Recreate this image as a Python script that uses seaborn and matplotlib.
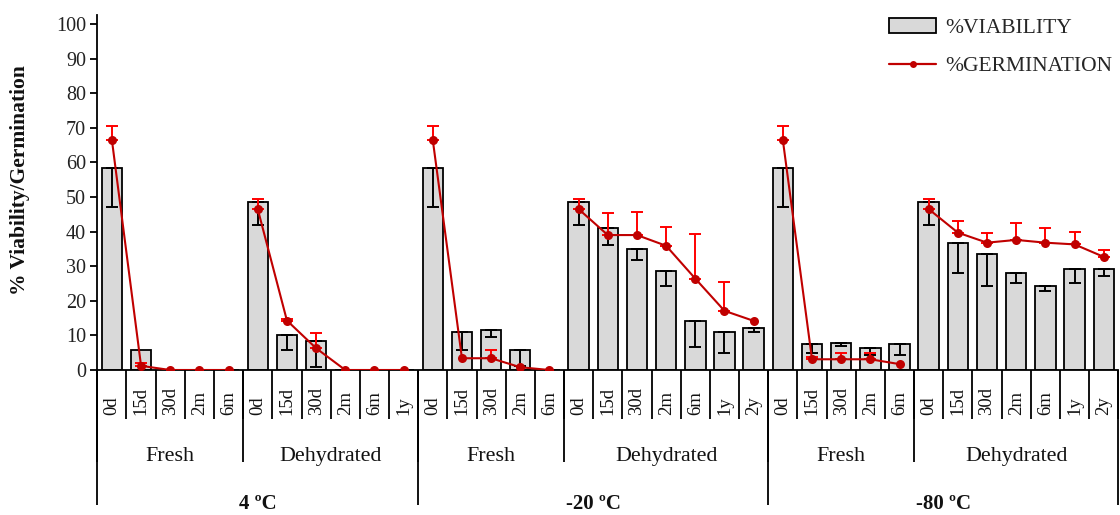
import numpy as np
import pandas as pd
import matplotlib
matplotlib.use("Agg")
import matplotlib.pyplot as plt
import matplotlib.transforms as mtransforms
from matplotlib.lines import Line2D
from matplotlib.patches import Patch
import seaborn as sns

# ---------------- data ----------------
group_temp = ["4 ºC", "4 ºC", "-20 ºC", "-20 ºC", "-80 ºC", "-80 ºC"]
group_state = ["Fresh", "Dehydrated", "Fresh", "Dehydrated", "Fresh", "Dehydrated"]
group_times = [
    ["0d", "15d", "30d", "2m", "6m"],
    ["0d", "15d", "30d", "2m", "6m", "1y"],
    ["0d", "15d", "30d", "2m", "6m"],
    ["0d", "15d", "30d", "2m", "6m", "1y", "2y"],
    ["0d", "15d", "30d", "2m", "6m"],
    ["0d", "15d", "30d", "2m", "6m", "1y", "2y"],
]
viability = [
    [58.5, 5.7, 0, 0, 0],
    [48.5, 10.1, 8.5, 0, 0, 0],
    [58.5, 11.1, 11.6, 5.8, 0],
    [48.5, 40.9, 35.1, 28.7, 14.3, 11.1, 12.0],
    [58.5, 7.4, 7.9, 6.3, 7.4],
    [48.5, 36.6, 33.4, 28.1, 24.4, 29.2, 29.2],
]
viability_err = [
    [11.3, 0, 0, 0, 0],
    [6.6, 4.3, 7.5, 0, 0, 0],
    [11.3, 5.3, 2.0, 4.6, 0],
    [6.6, 4.8, 3.3, 4.3, 7.6, 6.3, 0.9],
    [11.3, 2.6, 1.0, 2.0, 3.1],
    [6.6, 8.5, 9.0, 2.9, 1.6, 4.0, 2.0],
]
germination = [
    [66.5, 1.2, 0, 0, 0],
    [46.5, 14.3, 6.3, 0, 0, 0],
    [66.5, 3.4, 3.4, 0.8, 0],
    [46.5, 39.0, 39.0, 35.9, 26.4, 17.1, 14.2],
    [66.5, 3.1, 3.1, 3.1, 1.7],
    [46.5, 39.7, 36.8, 37.6, 36.8, 36.3, 32.7],
]
germination_err = [
    [4.1, 0.8, 0, 0, 0],
    [2.8, 0.4, 4.3, 0, 0, 0],
    [4.1, 0, 2.4, 0, 0],
    [2.8, 6.3, 6.8, 5.5, 12.9, 8.2, 0],
    [4.1, 0.7, 1.7, 1.7, 0],
    [2.8, 3.4, 2.7, 4.8, 4.1, 3.7, 2.0],
]

rows = []
pos = 0
for g in range(len(group_times)):
    for i, t in enumerate(group_times[g]):
        rows.append(dict(pos=pos, group=g, temp=group_temp[g], state=group_state[g], time=t,
                         viability=viability[g][i], v_err=viability_err[g][i],
                         germination=germination[g][i], g_err=germination_err[g][i]))
        pos += 1
df = pd.DataFrame(rows)
n = len(df)

# ---------------- style ----------------
sns.set_style("ticks")
plt.rcParams["font.family"] = ["Liberation Serif", "DejaVu Serif"]

W, H = 1120, 515
fig = plt.figure(figsize=(W / 100, H / 100), dpi=100)
ax_left, ax_right, ax_top, ax_bot = 97.3, 1118.3, 15, 370
ax = fig.add_axes([ax_left / W, 1 - ax_bot / H, (ax_right - ax_left) / W, (ax_bot - ax_top) / H])

BAR = "#d9d9d9"
RED = "#c00000"
RED_ERR = "#ff0000"

sns.barplot(data=df, x="pos", y="viability", native_scale=True, color=BAR, saturation=1,
            edgecolor="black", linewidth=1.3, width=0.7, errorbar=None, ax=ax, zorder=1)

ve = df[df.v_err > 0]
ax.errorbar(ve.pos, ve.viability, yerr=[ve.v_err, np.zeros(len(ve))], fmt="none",
            ecolor="black", elinewidth=1.4, capsize=4, capthick=1.4, zorder=2)

sns.lineplot(data=df, x="pos", y="germination", units="group", estimator=None, sort=False,
             color=RED, marker="o", markersize=6.5, markeredgewidth=0, linewidth=1.5,
             legend=False, ax=ax, zorder=4)

ge = df[df.g_err > 0]
ax.errorbar(ge.pos, ge.germination, yerr=[np.zeros(len(ge)), ge.g_err], fmt="none",
            ecolor=RED_ERR, elinewidth=1.4, capsize=4.5, capthick=1.4, zorder=3)

ax.set_xlim(-0.5, n - 0.5)
ax.set_ylim(0, 102.6)
ax.set_yticks(np.arange(0, 101, 10))
ax.set_xticks([])
ax.set_xlabel("")
ax.set_ylabel("")
for s in ["top", "right"]:
    ax.spines[s].set_visible(False)
ax.spines["left"].set_linewidth(1.3)
ax.spines["bottom"].set_linewidth(1.3)
ax.spines["left"].set_color("black")
ax.spines["bottom"].set_color("black")
ax.tick_params(axis="y", direction="out", length=5, width=1.3, color="black",
               labelsize=14.5, labelcolor="#222222", pad=3)

# ---------------- hierarchical x labels ----------------
trans = mtransforms.blended_transform_factory(ax.transData, ax.transAxes)
axh = ax_bot - ax_top


def yf(px):
    return (ax_bot - px) / axh


line_kw = dict(color="black", lw=1.3, clip_on=False, transform=trans, solid_capstyle="butt")

# category cells
for p, t in zip(df.pos, df.time):
    ax.plot([p - 0.5, p - 0.5], [0, yf(419)], **line_kw)
    ax.text(p, yf(415), t, rotation=90, rotation_mode="anchor", ha="left", va="center",
            fontsize=13.5, transform=trans, color="#111111")
ax.plot([n - 0.5, n - 0.5], [0, yf(419)], **line_kw)

# state groups
starts = df.groupby("group").pos.min().values
ends = df.groupby("group").pos.max().values
for g, (s, e) in enumerate(zip(starts, ends)):
    ax.plot([s - 0.5, s - 0.5], [0, yf(462)], **line_kw)
    ax.text((s + e) / 2, yf(461), group_state[g], ha="center", va="baseline",
            fontsize=15.8, transform=trans, color="#111111")

# temperature groups
temps_order = list(dict.fromkeys(group_temp))
for tname in temps_order:
    sub = df[df.temp == tname]
    s, e = sub.pos.min(), sub.pos.max()
    ax.plot([s - 0.5, s - 0.5], [0, yf(505)], **line_kw)
    ax.text((s + e) / 2, yf(509), tname, ha="center", va="baseline",
            fontsize=15, fontweight="bold", transform=trans, color="#111111")
ax.plot([n - 0.5, n - 0.5], [0, yf(505)], **line_kw)

# y label
fig.text(20 / W, 1 - 180 / H, "% Viability/Germination", rotation=90, ha="center", va="center",
         fontsize=15.5, fontweight="bold", color="#111111")

# legend
handles = [Patch(facecolor=BAR, edgecolor="black", linewidth=1.3),
           Line2D([], [], color=RED, marker="o", markersize=5, markeredgewidth=0, linewidth=1.6)]
ax.legend(handles, ["%VIABILITY", "%GERMINATION"], loc="upper left",
          bbox_to_anchor=(889 / W, 1 - 18 / H), bbox_transform=fig.transFigure,
          frameon=False, fontsize=15.5, handlelength=2.2, handleheight=0.7,
          handletextpad=0.4, labelspacing=0.85, borderpad=0, borderaxespad=0)

fig.savefig("out.png", dpi=100)
